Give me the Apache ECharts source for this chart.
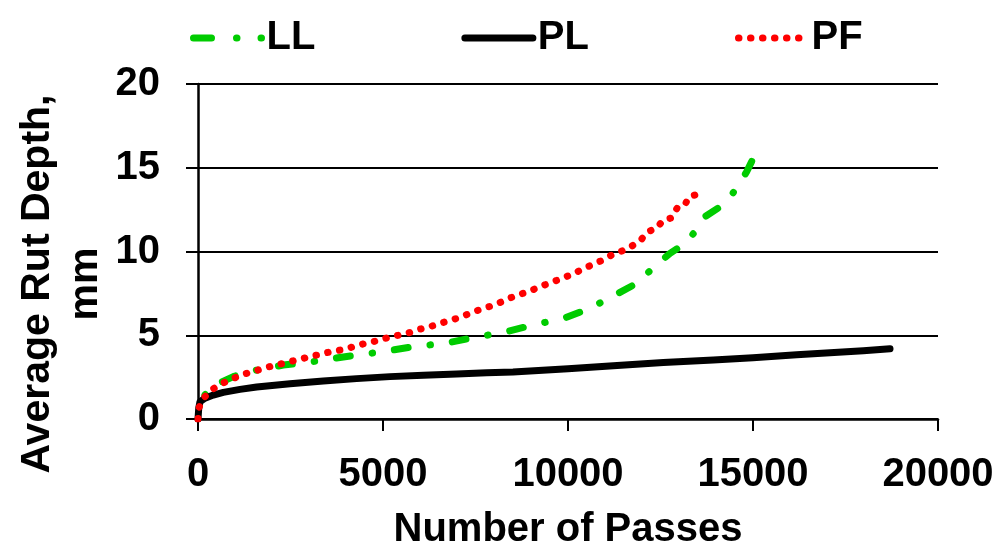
<!DOCTYPE html>
<html>
<head>
<meta charset="utf-8">
<script src="https://cdn.jsdelivr.net/npm/echarts@6/dist/echarts.min.js"></script>
<style>
  html, body { margin: 0; padding: 0; background: #fff; }
  #chart { width: 1002px; height: 545px; }
</style>
</head>
<body>
<div id="chart"></div>
<script>
// readings: number of passes vs average rut depth (mm)
var llPasses = [0, 54, 369, 955, 1135, 1676, 2306, 3027, 3973, 5009, 5820, 6676, 7486, 8279, 9054, 9892, 10595, 11270, 11857, 12333, 12757, 13144, 13432, 13703, 14108, 14441, 14694, 14829, 15027];
var llDepth = [0.6, 1.07, 1.93, 2.53, 2.67, 2.97, 3.22, 3.40, 3.72, 4.02, 4.32, 4.52, 4.88, 5.18, 5.61, 6.01, 6.61, 7.40, 8.10, 9.09, 9.89, 10.45, 11.18, 12.08, 12.67, 13.43, 14.27, 14.76, 15.66];

var plPasses = [0, 20, 54, 190, 414, 684, 1135, 1586, 2486, 3387, 4288, 5189, 6090, 6992, 7802, 8514, 10000, 11225, 12577, 13928, 15000, 16180, 17081, 17982, 18703];
var plDepth = [0, 0.64, 1.03, 1.24, 1.43, 1.59, 1.77, 1.91, 2.11, 2.27, 2.41, 2.53, 2.61, 2.69, 2.76, 2.80, 3.00, 3.18, 3.38, 3.52, 3.66, 3.84, 3.96, 4.08, 4.20];

var pfPasses = [0, 30, 171, 387, 657, 927, 1180, 1451, 1721, 1991, 2262, 2514, 2784, 3045, 3315, 3586, 3811, 3991, 4262, 4532, 4829, 5117, 5414, 5703, 5992, 6270, 6568, 6838, 7127, 7397, 7667, 7955, 8244, 8514, 8784, 9054, 9318, 9580, 9867, 10146, 10405, 10657, 10919, 11180, 11441, 11703, 11965, 12145, 12397, 12577, 12793, 12946, 13154, 13270, 13459];
var pfDepth = [0, 0.70, 1.30, 1.77, 2.13, 2.39, 2.64, 2.81, 2.99, 3.16, 3.30, 3.44, 3.58, 3.74, 3.86, 4.02, 4.10, 4.18, 4.36, 4.52, 4.66, 4.85, 5.00, 5.15, 5.36, 5.51, 5.73, 5.89, 6.11, 6.35, 6.57, 6.77, 7.03, 7.30, 7.50, 7.72, 7.96, 8.18, 8.42, 8.67, 8.96, 9.21, 9.47, 9.79, 10.01, 10.29, 10.67, 11.16, 11.40, 11.88, 12.00, 12.58, 12.76, 13.27, 13.39];

var xTicks = [0, 5000, 10000, 15000, 20000];
var yTicks = [0, 5, 10, 15, 20];

var pairs = function (xs, ys) {
  return xs.map(function (x, i) { return [x, ys[i]]; });
};

var font = "'Liberation Sans', Arial, sans-serif";
var chart = echarts.init(document.getElementById("chart"));

var option = {
  animation: false,
  backgroundColor: "#fff",
  grid: { left: 198, right: 64, top: 84, bottom: 126, outerBoundsMode: "none", containLabel: false },
  legend: {
    left: 190,
    top: 18,
    padding: 0,
    itemWidth: 68,
    itemHeight: 14,
    itemGap: 146,
    textStyle: { fontFamily: font, fontWeight: "bold", fontSize: 40, color: "#000" },
    data: [
      { name: "LL", itemStyle: { opacity: 0 }, lineStyle: { width: 7, cap: "round", type: [18, 25, 0.5, 24, 0.5, 30], dashOffset: 0 } },
      { name: "PL", itemStyle: { opacity: 0 }, lineStyle: { width: 7, cap: "round", type: "solid" } },
      { name: "PF", itemStyle: { opacity: 0 }, lineStyle: { width: 7, cap: "round", type: [0.5, 11.5] } }
    ]
  },
  xAxis: {
    type: "value",
    min: xTicks[0],
    max: xTicks[xTicks.length - 1],
    interval: 5000,
    name: "Number of Passes",
    nameLocation: "middle",
    nameGap: 91,
    nameTextStyle: { fontFamily: font, fontWeight: "bold", fontSize: 40, color: "#000" },
    axisLine: { lineStyle: { color: "#000", width: 2.5 } },
    axisTick: { show: true, length: 12, lineStyle: { color: "#000", width: 2 } },
    axisLabel: {
      margin: 36,
      fontFamily: font, fontWeight: "bold", fontSize: 40, color: "#000",
      formatter: function (v) { return String(v); }
    },
    splitLine: { show: false }
  },
  yAxis: {
    type: "value",
    min: yTicks[0],
    max: yTicks[yTicks.length - 1],
    interval: 5,
    axisLine: { show: true, lineStyle: { color: "#000", width: 2.5 } },
    axisTick: { show: true, length: 12, lineStyle: { color: "#000", width: 2 } },
    axisLabel: {
      margin: 38,
      fontFamily: font, fontWeight: "bold", fontSize: 40, color: "#000",
      formatter: function (v) { return String(v); }
    },
    splitLine: { show: true, lineStyle: { color: "#000", width: 2 } }
  },
  graphic: [
    {
      type: "text",
      x: 62,
      y: 284,
      rotation: Math.PI / 2,
      style: {
        text: "Average Rut Depth,\nmm",
        font: "bold 41px " + font,
        fill: "#000",
        align: "center",
        verticalAlign: "middle",
        lineHeight: 48
      }
    }
  ],
  series: [
    {
      name: "LL",
      type: "line",
      symbol: "none",
      color: "#00cc00",
      lineStyle: { width: 7, cap: "round", join: "round", type: [14, 22, 0.5, 22], dashOffset: 20 },
      data: pairs(llPasses, llDepth)
    },
    {
      name: "PL",
      type: "line",
      symbol: "none",
      color: "#000",
      lineStyle: { width: 7, cap: "round", join: "round" },
      data: pairs(plPasses, plDepth)
    },
    {
      name: "PF",
      type: "line",
      symbol: "none",
      color: "#ff0000",
      lineStyle: { width: 7, cap: "round", join: "round", type: [0.5, 11.5] },
      data: pairs(pfPasses, pfDepth)
    }
  ]
};

option && chart.setOption(option);
</script>
</body>
</html>
